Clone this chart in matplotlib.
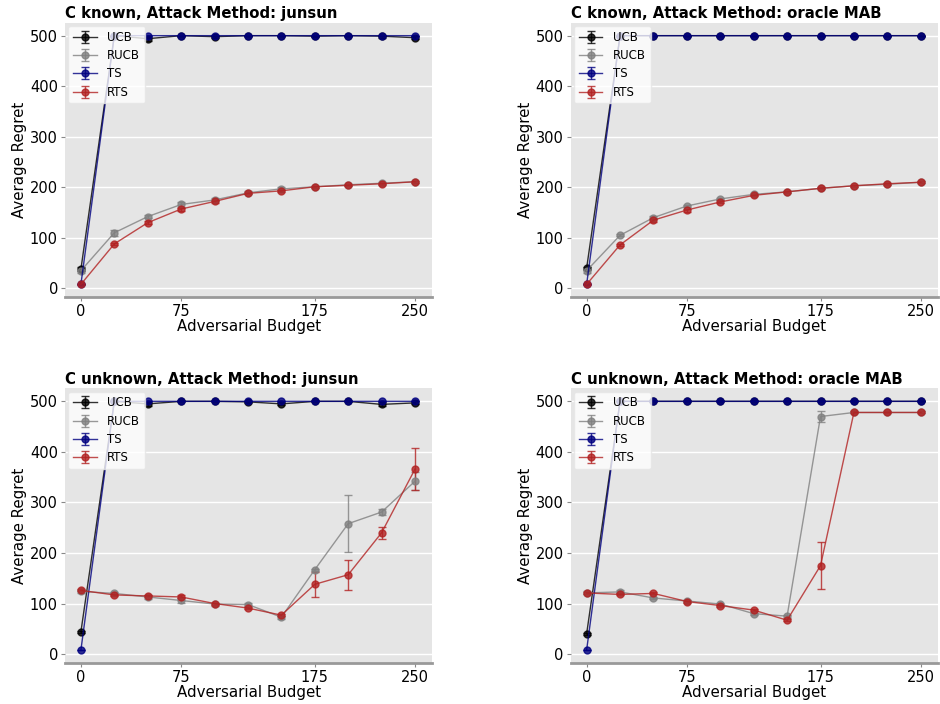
import numpy as np
from matplotlib import pyplot as plt

budgets = [0, 25, 50, 75, 100, 125, 150, 175, 200, 225, 250]
titles = ["C known, Attack Method: junsun", "C known, Attack Method: oracle MAB",
          "C unknown, Attack Method: junsun", "C unknown, Attack Method: oracle MAB"]

# mean regret per panel
ucb = [
    [38, 500, 494, 500, 498, 500, 500, 499, 500, 499, 496],
    [40, 500, 500, 500, 500, 500, 500, 500, 500, 500, 500],
    [44, 500, 495, 500, 500, 499, 495, 500, 500, 494, 497],
    [40, 500, 500, 500, 500, 500, 500, 500, 500, 500, 500],
]
rucb = [
    [35, 110, 142, 166, 175, 189, 197, 201, 205, 208, 211],
    [35, 105, 140, 163, 177, 186, 191, 198, 203, 206, 210],
    [124, 120, 113, 106, 99, 98, 73, 167, 258, 281, 342],
    [121, 123, 111, 105, 99, 80, 75, 470, 478, 478, 478],
]
ts = [
    [8, 500, 500, 500, 500, 500, 500, 500, 500, 500, 500],
    [8, 500, 500, 500, 500, 500, 500, 500, 500, 500, 500],
    [8, 500, 500, 500, 500, 500, 500, 500, 500, 500, 500],
    [8, 500, 500, 500, 500, 500, 500, 500, 500, 500, 500],
]
rts = [
    [8, 88, 130, 157, 172, 188, 193, 201, 204, 207, 211],
    [8, 86, 135, 155, 171, 184, 191, 198, 203, 207, 210],
    [126, 117, 115, 113, 100, 91, 77, 138, 157, 240, 366],
    [121, 118, 120, 104, 96, 87, 67, 175, 478, 478, 478],
]

# error bar half-widths
ucb_err = [
    [4, 0, 4, 0, 3, 0, 0, 1, 0, 3, 3],
    [3, 0, 0, 0, 0, 0, 0, 0, 0, 0, 0],
    [2, 0, 4, 0, 0, 2, 3, 0, 0, 4, 3],
    [2, 0, 0, 0, 0, 0, 0, 0, 0, 0, 0],
]
rucb_err = [
    [5, 6, 3, 4, 3, 3, 3, 2, 2, 2, 2],
    [4, 2, 3, 2, 2, 2, 2, 2, 2, 2, 2],
    [3, 3, 4, 4, 3, 3, 3, 2, 56, 6, 18],
    [3, 3, 2, 2, 3, 2, 3, 10, 2, 2, 2],
]
ts_err = [[0] * 11 for _ in range(4)]
rts_err = [
    [1, 2, 3, 3, 3, 2, 2, 2, 2, 2, 2],
    [1, 2, 3, 3, 3, 2, 2, 2, 2, 2, 2],
    [2, 2, 2, 3, 2, 2, 2, 25, 30, 12, 42],
    [2, 2, 2, 2, 2, 2, 2, 47, 2, 2, 2],
]

series = [
    ("UCB", ucb, ucb_err, "black"),
    ("RUCB", rucb, rucb_err, "grey"),
    ("TS", ts, ts_err, "navy"),
    ("RTS", rts, rts_err, "firebrick"),
]

fig, axes = plt.subplots(2, 2, figsize=(9.4, 7.04), dpi=100)

for i, ax in enumerate(axes.flat):
    ax.set_facecolor("#e5e5e5")
    for name, vals, errs, color in series:
        ax.errorbar(budgets, vals[i], yerr=errs[i], label=name, color=color,
                    marker="o", markersize=5, linewidth=1, capsize=3, alpha=0.8)
    ax.set_title(titles[i], loc="left", fontsize=10.7, fontweight="bold", pad=3)
    ax.set_xlabel("Adversarial Budget", fontsize=10.8, labelpad=0)
    ax.set_ylabel("Average Regret", fontsize=10.8, labelpad=2)
    ax.set_xticks([0, 75, 175, 250])
    ax.set_yticks([0, 100, 200, 300, 400, 500])
    ax.set_xlim(-12, 263)
    ax.set_ylim(-18, 526)
    ax.tick_params(labelsize=10.5, labelcolor="black", color="#888888",
                   length=3, pad=2)
    ax.grid(axis="y", color="white", linewidth=1)
    ax.set_axisbelow(True)
    for side in ["top", "right", "left"]:
        ax.spines[side].set_visible(False)
    ax.spines["bottom"].set_color("#999999")
    ax.spines["bottom"].set_linewidth(2)
    ax.legend(loc="upper left", fontsize=8.5, facecolor="white", framealpha=0.8,
              edgecolor="#e5e5e5", borderaxespad=0.3, handletextpad=0.9,
              labelspacing=0.45)

fig.subplots_adjust(left=0.069, right=0.998, top=0.968, bottom=0.058,
                    wspace=0.376, hspace=0.33)
fig.savefig("out.png")
